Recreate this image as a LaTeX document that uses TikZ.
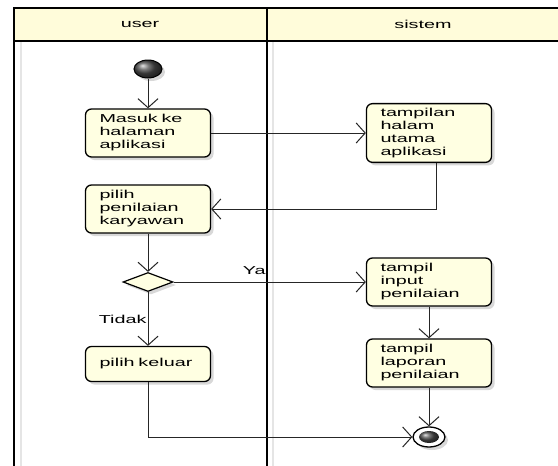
\documentclass[tikz,border=0pt]{standalone}
\usepackage{fontspec}
\setmainfont{Liberation Sans}[FakeStretch=1.72]
\usetikzlibrary{arrows.meta,positioning,shapes.geometric,shadows}

\definecolor{krem}{HTML}{FFFFE2}
\definecolor{kepala}{HTML}{FFFCDA}

\begin{document}
\begin{tikzpicture}[x=1pt,y=1pt,node distance=60pt,on grid,
	font=\fontsize{11.5}{13}\selectfont,
	>={Straight Barb[length=9pt,width=20pt]},
	bayang/.style={drop shadow={shadow xshift=3pt,shadow yshift=-3pt,fill=black!30,opacity=0.5}},
	aksi/.style={draw, line width=1.3pt, rounded corners=6pt, fill=krem, text width=97pt,
		align=left, inner xsep=14pt, inner ysep=4.5pt, minimum height=48pt, bayang},
	awal/.style={ellipse, draw, line width=1pt, minimum width=28pt, minimum height=18pt,
		inner sep=0pt, ball color=gray!60!black, bayang},
	akhir/.style={ellipse, draw, line width=1.3pt, minimum width=32pt, minimum height=20pt,
		inner sep=0pt, fill=white, bayang},
	pilihan/.style={diamond, draw, line width=1.2pt, fill=krem, aspect=2.6,
		minimum width=50pt, minimum height=19pt, inner sep=0pt, bayang}]

	\useasboundingbox (0,0) rectangle (558,-466);
	\fill[white] (0,0) rectangle (558,-466);

	% swimlane
	\fill[kepala] (14,-8) rectangle (558,-41);
	\draw[gray!20, line width=2pt] (21,-41) -- (21,-466);
	\draw[gray!20, line width=2pt] (273,-41) -- (273,-466);
	\draw[line width=1.5pt] (558,-8) -- (14,-8) -- (14,-466);
	\draw[line width=1.5pt] (14,-41) -- (558,-41);
	\draw[line width=2.5pt] (267,-8) -- (267,-466);
	\node (lajur user) at (140,-24.5) {user};
	\node (lajur sistem) at (423,-24.5) {sistem};

	% aktivitas
	\node[awal] 		(mulai) 	at (148,-69) 		{};
	\node[aksi] 		(masuk) 	[below=64pt of mulai] 	{Masuk ke\\halaman\\aplikasi};
	\node[aksi] 		(utama) 	[right=281pt of masuk] 	{tampilan\\halam\\utama\\aplikasi};
	\node[aksi] 		(pilih) 	[below=76pt of masuk] 	{pilih\\penilaian\\karyawan};
	\node[pilihan] 		(cek) 		[below=73pt of pilih] 	{};
	\node[aksi] 		(input) 	[right=281pt of cek] 	{tampil\\input\\penilaian};
	\node[aksi, minimum height=35pt] (keluar) [below=82pt of cek] 	{pilih keluar};
	\node[aksi] 		(laporan) 	[below=81pt of input] 	{tampil\\laporan\\penilaian};
	\node[akhir] 		(selesai) 	[below=74pt of laporan] {};
	\shade[ball color=gray!60!black] (selesai.center) ellipse [x radius=10pt, y radius=6pt];

\path[->, line width=1pt, draw=black!85]
	(mulai) 	edge 					(masuk)
	(masuk) 	edge 					(utama)
	(pilih) 	edge 					(cek)
	(cek) 		edge 	node[above=4pt, pos=0.42] {Ya} 	(input)
	(cek) 		edge 	node[left, inner xsep=1pt] {Tidak} 	(keluar)
	(input) 	edge 					(laporan)
	(laporan) 	edge 					(selesai)
;
\draw[->, line width=1pt, draw=black!85] ([xshift=7pt]utama.south) |- (pilih);
\draw[->, line width=1pt, draw=black!85] (keluar) |- (selesai);
\end{tikzpicture}
\end{document}
